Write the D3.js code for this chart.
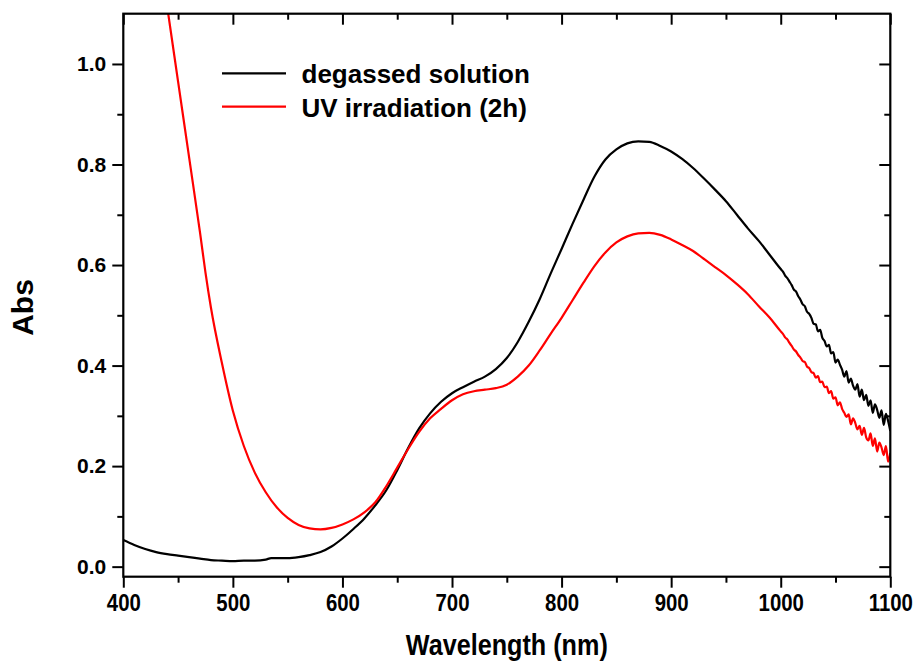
<!DOCTYPE html>
<html><head><meta charset="utf-8">
<script src="https://cdn.jsdelivr.net/npm/d3@7"></script>
<style>body{margin:0;background:#fff} svg{display:block}</style>
</head><body><svg id="c" width="918" height="664"></svg>
<script>
// ---- data ----
const wavelengthsDegassed = [400,410,420,430,440,450,460,470,480,490,500,510,520,530,535,540,550,560,570,580,590,600,610,620,630,640,650,660,670,680,690,700,710,720,730,740,750,760,770,780,790,800,810,820,830,840,850,860,870,880,890,900,910,920,930,940,950,960,970,980,990,
  1000,1002,1004,1006,1008,1010,1012,1014,1016,1018,1020,1022,1024,1026,1028,1030,1032,1034,1036,1038,1040,1042,1044,1046,1048,1050,1052,1054,1056,1058,1060,1062,1064,1066,1068,1070,1072,1074,1076,1078,1080,1082,1084,1086,1088,1090,1092,1094,1096,1098,1100];
const absDegassed = [0.053,0.043,0.035,0.029,0.025,0.022,0.019,0.016,0.013,0.012,0.011,0.012,0.012,0.014,0.017,0.017,0.017,0.019,0.023,0.029,0.040,0.056,0.075,0.096,0.122,0.152,0.192,0.236,0.275,0.305,0.328,0.345,0.357,0.368,0.378,0.393,0.415,0.447,0.487,0.532,0.583,0.632,0.682,0.730,0.776,0.810,0.830,0.842,0.846,0.845,0.837,0.826,0.811,0.793,0.772,0.750,0.727,0.700,0.673,0.648,0.620,
  0.592,0.587,0.579,0.574,0.567,0.560,0.551,0.547,0.538,0.531,0.522,0.518,0.507,0.503,0.495,0.483,0.482,0.468,0.471,0.455,0.449,0.438,0.441,0.424,0.427,0.406,0.412,0.402,0.392,0.378,0.389,0.366,0.374,0.360,0.352,0.363,0.338,0.352,0.331,0.342,0.320,0.331,0.306,0.323,0.312,0.296,0.311,0.282,0.304,0.290,0.270,0.292,0.263,0.276];
const wavelengthsUV = [430,440,450,460,470,475,480,490,500,510,520,530,540,550,560,570,580,590,600,610,620,630,640,650,660,670,680,690,700,710,720,730,740,750,760,770,780,790,800,810,820,830,840,850,860,870,880,890,900,910,920,930,940,950,960,970,980,990,
  1000,1002,1004,1006,1008,1010,1012,1014,1016,1018,1020,1022,1024,1026,1028,1030,1032,1034,1036,1038,1040,1042,1044,1046,1048,1050,1052,1054,1056,1058,1060,1062,1064,1066,1068,1070,1072,1074,1076,1078,1080,1082,1084,1086,1088,1090,1092,1094,1096,1098,1100];
const absUV = [1.27,1.115,0.965,0.815,0.665,0.585,0.515,0.405,0.310,0.240,0.187,0.148,0.118,0.097,0.083,0.076,0.074,0.077,0.084,0.094,0.108,0.128,0.160,0.197,0.234,0.268,0.295,0.314,0.331,0.343,0.349,0.352,0.355,0.362,0.378,0.400,0.430,0.463,0.495,0.530,0.565,0.598,0.625,0.645,0.657,0.663,0.664,0.660,0.651,0.640,0.628,0.612,0.596,0.580,0.562,0.542,0.518,0.495,
  0.468,0.463,0.456,0.452,0.445,0.439,0.432,0.428,0.421,0.416,0.409,0.407,0.398,0.395,0.387,0.385,0.376,0.379,0.367,0.368,0.357,0.358,0.345,0.349,0.334,0.337,0.321,0.327,0.314,0.306,0.298,0.303,0.283,0.295,0.286,0.273,0.280,0.262,0.276,0.257,0.251,0.265,0.240,0.255,0.229,0.247,0.237,0.222,0.240,0.209,0.226];
const xMajorTicks = [400,500,600,700,800,900,1000,1100];
const xMinorTicks = [450,550,650,750,850,950,1050];
const yMajorTicks = [0.0,0.2,0.4,0.6,0.8,1.0];
const yMinorTicks = [0.1,0.3,0.5,0.7,0.9];
const seriesNames = ["degassed solution","UV irradiation (2h)"];
const seriesColors = ["#000000","#ff0000"];
const xTitle = "Wavelength (nm)";
const yTitle = "Abs";

// ---- layout ----
const L = 123.3, R = 890.3, T = 13.7, B = 576.7;
const font = "'Liberation Sans', Arial, sans-serif";
const svg = d3.select("#c");
const x = d3.scaleLinear().domain([400,1100]).range([L,R]);
const y = d3.scaleLinear().domain([-0.02,1.1]).range([B,T]);

svg.append("defs").append("clipPath").attr("id","clip")
  .append("rect").attr("x",L).attr("y",T).attr("width",R-L).attr("height",B-T);

// curves
const series = [
  wavelengthsDegassed.map((w,i)=>[w,absDegassed[i]]),
  wavelengthsUV.map((w,i)=>[w,absUV[i]])
];
const line = d3.line().x(d=>x(d[0])).y(d=>y(d[1])).curve(d3.curveMonotoneX);
const g = svg.append("g").attr("clip-path","url(#clip)");
series.forEach((s,i)=>{
  g.append("path").datum(s).attr("d",line).attr("fill","none")
   .attr("stroke",seriesColors[i]).attr("stroke-width",2.2).attr("stroke-linejoin","round");
});

// axes
function styleAxis(sel){
  sel.select(".domain").remove();
  sel.selectAll(".tick line").attr("stroke","#000").attr("stroke-width",2);
}
const MAJ = 11, MIN = 6;
// bottom
const bx = svg.append("g").attr("transform",`translate(0,${B})`)
  .call(d3.axisBottom(x).tickValues(xMajorTicks).tickSize(MAJ).tickPadding(6.3).tickFormat(d3.format("d")));
styleAxis(bx);
bx.selectAll(".tick text").attr("font-family",font).attr("font-weight","bold")
  .attr("font-size",24).attr("fill","#000").attr("transform","scale(0.85,1)");
svg.append("g").attr("transform",`translate(0,${B})`)
  .call(d3.axisBottom(x).tickValues(xMinorTicks).tickSize(MIN).tickFormat("")).call(styleAxis);
// top (inward)
svg.append("g").attr("transform",`translate(0,${T})`)
  .call(d3.axisTop(x).tickValues(xMajorTicks).tickSize(-MAJ).tickFormat("")).call(styleAxis);
svg.append("g").attr("transform",`translate(0,${T})`)
  .call(d3.axisTop(x).tickValues(xMinorTicks).tickSize(-MIN).tickFormat("")).call(styleAxis);
// left
const ly = svg.append("g").attr("transform",`translate(${L},0)`)
  .call(d3.axisLeft(y).tickValues(yMajorTicks).tickSize(MAJ).tickPadding(6).tickFormat(d3.format(".1f")));
styleAxis(ly);
ly.selectAll(".tick text").attr("font-family",font).attr("font-weight","bold")
  .attr("font-size",21).attr("fill","#000");
svg.append("g").attr("transform",`translate(${L},0)`)
  .call(d3.axisLeft(y).tickValues(yMinorTicks).tickSize(MIN).tickFormat("")).call(styleAxis);
// right (inward)
svg.append("g").attr("transform",`translate(${R},0)`)
  .call(d3.axisRight(y).tickValues(yMajorTicks).tickSize(-MAJ).tickFormat("")).call(styleAxis);
svg.append("g").attr("transform",`translate(${R},0)`)
  .call(d3.axisRight(y).tickValues(yMinorTicks).tickSize(-MIN).tickFormat("")).call(styleAxis);

// frame
svg.append("rect").attr("x",L).attr("y",T).attr("width",R-L).attr("height",B-T)
  .attr("fill","none").attr("stroke","#000").attr("stroke-width",2.2);

// titles
svg.append("text").attr("transform",`translate(${(L+R)/2},655) scale(0.84,1)`)
  .attr("text-anchor","middle").attr("font-family",font).attr("font-weight","bold")
  .attr("font-size",30).attr("fill","#000").text(xTitle);
svg.append("text").attr("transform","translate(33.3,307.5) rotate(-90)")
  .attr("text-anchor","middle").attr("font-family",font).attr("font-weight","bold")
  .attr("font-size",30).attr("fill","#000").text(yTitle);

// legend
const leg = svg.append("g");
seriesNames.forEach((name,i)=>{
  const yy = 73.3 + i*33.4;
  leg.append("line").attr("x1",222).attr("x2",286).attr("y1",yy).attr("y2",yy)
    .attr("stroke",seriesColors[i]).attr("stroke-width",2.2);
  leg.append("text").attr("x",301.5).attr("y",yy+10).attr("font-family",font)
    .attr("font-weight","bold").attr("font-size",26).attr("fill","#000").text(name);
});
</script></body></html>
